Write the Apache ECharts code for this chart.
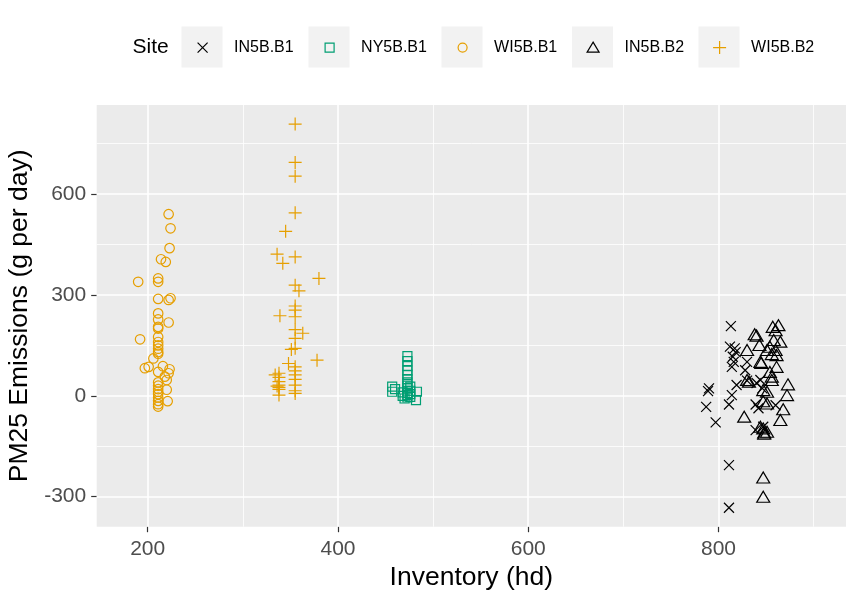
<!DOCTYPE html>
<html><head><meta charset="utf-8">
<script src="https://cdn.jsdelivr.net/npm/echarts@6/dist/echarts.min.js"></script>
<style>html,body{margin:0;padding:0;background:#fff}#c{width:847px;height:591px}</style>
</head><body><div id="c"></div>
<script>
const siteNames = ['IN5B.B1', 'NY5B.B1', 'WI5B.B1', 'IN5B.B2', 'WI5B.B2'];

const in5bB1 = [[813,207],[812,146],[817,141],[815,116],[816,101],[814,86],[818,130],[830,101],[828,76],[819,32],
  [790,22],[789,14],[814,2],[811,-26],[787,-33],[797,-79],[839,-26],[842,-37],[844,47],[846,22],
  [839,-102],[847,-92],[860,-28],[811,-206],[811,-333],[830,45],[840,38]];

const ny5bB1 = [[473,118],[473,103],[473,88],[473,75],[473,62],[473,50],[473,40],[473,30],[473,22],[473,15],
  [473,8],[473,2],[473,-5],[457,27],[457,12],[460,20],[476,27],[476,15],[476,5],[476,-3],
  [483,12],[482,-13],[468,10],[468,0],[470,-8]];

const wi5bB1 = [[222,540],[224,498],[223,439],[214,406],[219,398],[190,339],[211,349],[211,339],[211,288],[224,290],
  [222,285],[211,245],[211,227],[211,205],[211,200],[222,218],[192,168],[211,175],[211,160],[211,150],
  [211,140],[211,130],[211,125],[206,111],[201,86],[197,82],[211,71],[216,88],[223,79],[222,67],
  [218,57],[220,47],[211,40],[211,30],[211,20],[211,12],[211,5],[211,-5],[211,-15],[211,-25],
  [211,-32],[220,18],[221,-16]];

const in5bB2 = [[838,183],[830,136],[843,151],[844,101],[851,136],[830,47],[827,-62],[847,17],[847,-16],[847,-97],
  [848,-109],[847,-243],[847,-300],[844,-92],[857,205],[863,210],[860,195],[858,166],[865,161],[854,146],
  [860,136],[861,121],[861,86],[854,71],[856,57],[873,34],[872,2],[868,-40],[865,-72],[851,12],
  [851,-23],[851,-107],[840,179],[845,98],[856,124],[856,47],[832,42],[848,-113]];

const wi5bB2 = [[355,808],[355,694],[355,653],[355,544],[345,489],[336,421],[342,394],[355,413],[380,349],[355,329],
  [359,312],[339,238],[355,267],[355,255],[355,235],[355,197],[363,186],[355,171],[351,138],[355,141],
  [378,106],[348,96],[355,86],[355,74],[355,62],[355,49],[355,32],[355,15],[355,7],[338,67],
  [338,55],[338,42],[338,32],[338,25],[338,19],[338,2],[334,62],[336,29]];

const xTickLabels = [200, 400, 600, 800];
const xMinorBreaks = [300, 500, 700, 900];
const yTickLabels = [-300, 0, 300, 600];
const yMinorBreaks = [-150, 150, 450, 750];
const xRange = [146.4, 934];
const yRange = [-389.2, 864.6];

const seriesData = [in5bB1, ny5bB1, wi5bB1, in5bB2, wi5bB2];
const colors = ['#000000', '#009E73', '#E69F00', '#000000', '#E69F00'];
const symbols = ['path://M0 0L10 10M10 0L0 10', 'rect', 'circle', 'path://M5 0L10 8.66L0 8.66Z', 'path://M5 0L5 10M0 5L10 5'];
const symbolSizes = [10, 9, 9.5, [13, 11], 13];
const legendIcons = [
  'path://M0 0M47 41M15.5 15.5L25.5 25.5M25.5 15.5L15.5 25.5',
  'path://M0 0M47 41M16 16L25 16L25 25L16 25Z',
  'path://M0 0M47 41M16 20.5A4.5 4.5 0 1 0 25 20.5A4.5 4.5 0 1 0 16 20.5Z',
  'path://M0 0M47 41M20.5 15L26.5 25L14.5 25Z',
  'path://M0 0M47 41M20.5 14L20.5 27M14 20.5L27 20.5'
];
const keyLefts = [181.5, 308.5, 441.5, 572, 698.5];
const KEY_TOP = 26.5;

const FONT = 'Liberation Sans, Arial, sans-serif';
const chart = echarts.init(document.getElementById('c'), null, {renderer: 'canvas'});

function hLine(v, w) {
  return [{coord: [xRange[0], v], lineStyle: {width: w, color: '#FFFFFF', type: 'solid'}}, {coord: [xRange[1], v]}];
}
function vLine(v, w) {
  return [{coord: [v, yRange[0]], lineStyle: {width: w, color: '#FFFFFF', type: 'solid'}}, {coord: [v, yRange[1]]}];
}

const series = [{
  type: 'scatter', name: '_grid', data: [], silent: true, z: 1,
  markLine: {
    silent: true, z: 1, symbol: ['none', 'none'], animation: false,
    label: {show: false},
    lineStyle: {color: '#FFFFFF', type: 'solid', width: 1.6},
    emphasis: {disabled: true},
    data: [
      ...xMinorBreaks.map(v => vLine(v, 0.8)),
      ...yMinorBreaks.map(v => hLine(v, 0.8)),
      ...xTickLabels.map(v => vLine(v, 1.6)),
      ...yTickLabels.map(v => hLine(v, 1.6))
    ]
  }
}];
siteNames.forEach((n, i) => {
  series.push({
    type: 'scatter', name: n, data: seriesData[i], z: 3, silent: true,
    symbol: symbols[i], symbolSize: symbolSizes[i],
    itemStyle: {color: 'rgba(0,0,0,0)', borderColor: colors[i], borderWidth: 1.2, opacity: 1}
  });
});

const legends = siteNames.map((n, i) => ({
  left: keyLefts[i], top: KEY_TOP, padding: 0, orient: 'horizontal',
  itemWidth: 47, itemHeight: 41, selectedMode: false,
  itemStyle: {borderWidth: 1.2},
  textStyle: {fontFamily: FONT, fontSize: 16, color: '#000000'},
  data: [{name: n, icon: legendIcons[i]}]
}));

chart.setOption({
  animation: false,
  backgroundColor: '#FFFFFF',
  textStyle: {fontFamily: FONT},
  graphic: [
    {type: 'text', left: 132.5, top: 37, z: 0, style: {text: 'Site', font: '21px ' + FONT, fill: '#000000'}},
    ...keyLefts.map(l => ({type: 'rect', left: l, top: KEY_TOP, z: 0, shape: {width: 41, height: 41}, style: {fill: '#F2F2F2'}}))
  ],
  legend: legends,
  grid: {left: 96.7, right: 1, top: 105, bottom: 64.3, show: true, backgroundColor: '#EBEBEB', borderWidth: 0, containLabel: false, outerBoundsMode: 'none'},
  xAxis: {
    type: 'value', min: xRange[0], max: xRange[1], position: 'bottom',
    name: 'Inventory (hd)', nameLocation: 'middle', nameGap: 37,
    nameTextStyle: {fontFamily: FONT, fontSize: 26.5, color: '#000000'},
    axisLine: {show: false, onZero: false},
    axisTick: {show: true, length: 5.5, lineStyle: {color: '#333333', width: 1.2}, customValues: xTickLabels},
    axisLabel: {fontFamily: FONT, fontSize: 21, color: '#4D4D4D', margin: 12, customValues: xTickLabels},
    splitLine: {show: false}
  },
  yAxis: {
    type: 'value', min: yRange[0], max: yRange[1], position: 'left',
    name: 'PM25 Emissions (g per day)', nameLocation: 'middle', nameGap: 62,
    nameTextStyle: {fontFamily: FONT, fontSize: 26.5, color: '#000000'},
    axisLine: {show: false, onZero: false},
    axisTick: {show: true, length: 5.5, lineStyle: {color: '#333333', width: 1.2}, customValues: yTickLabels},
    axisLabel: {fontFamily: FONT, fontSize: 21, color: '#4D4D4D', margin: 10.5, customValues: yTickLabels},
    splitLine: {show: false}
  },
  series: series
});
</script></body></html>
